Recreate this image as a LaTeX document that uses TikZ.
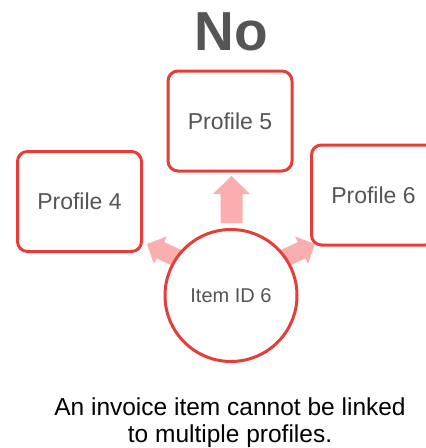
\documentclass[tikz,border=0pt]{standalone}
\usepackage{fontspec}
\setmainfont{Liberation Sans}
\definecolor{boxred}{RGB}{229,62,58}
\definecolor{arrowpink}{RGB}{250,174,174}
\definecolor{txtgray}{RGB}{85,85,85}
\tikzset{
  pics/blockarrow/.style={code={
    \fill[arrowpink] (0,0) -- (-18,-18.5) -- (-18,-11) -- (-47,-11) -- (-47,11) -- (-18,11) -- (-18,18.5) -- cycle;}}
}
\begin{document}
\begin{tikzpicture}[x=1pt,y=-1pt,
  profile/.style={draw=boxred, line width=3pt, rounded corners=10pt, fill=white,
    minimum width=124pt, minimum height=100pt, text=txtgray,
    font=\fontsize{23}{27}\selectfont, inner sep=0pt},
  item/.style={circle, draw=boxred, line width=3pt, fill=white, minimum size=132pt,
    text=txtgray, font=\fontsize{20}{24}\selectfont, inner sep=0pt},
  title/.style={text=txtgray, font=\fontsize{55}{60}\selectfont\bfseries, inner sep=0pt},
  caption/.style={text=black, align=center, font=\fontsize{24.5}{27}\selectfont, inner sep=0pt}]
\useasboundingbox (0,0) rectangle (426,448);
\clip (0,0) rectangle (426,448);
\pic[rotate=90] at (231.5,176) {blockarrow};
\pic[rotate=155, scale=0.82] at (147,244) {blockarrow};
\pic[rotate=25, scale=0.82] at (315,244) {blockarrow};
\node[item] (item) at (231,295.5) {Item ID 6};
\node[profile] (p4) at (79.5,201.5) {Profile 4};
\node[profile] (p5) at (230,121) {Profile 5};
\node[profile] (p6) at (373.5,195) {Profile 6};
\node[title] (title) at (231.5,32) {No};
\node[caption] (caption) at (230,423) {An invoice item cannot be linked\\to multiple profiles.};
\end{tikzpicture}
\end{document}
